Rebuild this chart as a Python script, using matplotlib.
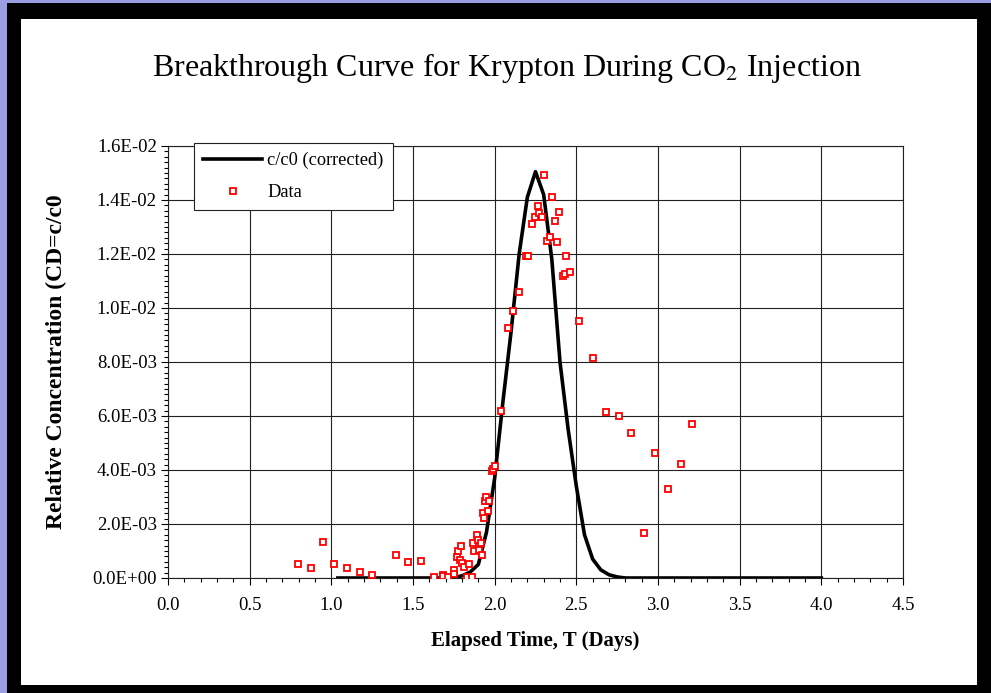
import matplotlib
matplotlib.use("Agg")
import matplotlib.pyplot as plt
from matplotlib.patches import Rectangle
from matplotlib.ticker import MultipleLocator, FuncFormatter

plt.rcParams['font.family'] = ['Liberation Serif', 'DejaVu Serif']

# model curve c/c0 (corrected)
curve_t = [1.04, 1.70, 1.75, 1.80, 1.85, 1.90, 1.95, 2.00, 2.05, 2.10, 2.15, 2.20,
           2.25, 2.30, 2.35, 2.40, 2.45, 2.50, 2.55, 2.60, 2.65, 2.70, 2.75, 2.80, 4.00]
curve_c = [0.0, 0.0, 0.02, 0.08, 0.22, 0.5, 1.7, 3.7, 6.5, 9.1, 12.0, 14.1,
           15.05, 14.2, 11.8, 8.0, 5.5, 3.4, 1.6, 0.7, 0.3, 0.12, 0.04, 0.0, 0.0]
curve_c = [v * 1e-3 for v in curve_c]

# measured data
data_t = [0.798, 0.874, 0.951, 1.019, 1.096, 1.174, 1.251, 1.394, 1.472, 1.551,
          1.627, 1.682, 1.686, 1.717, 1.751, 1.751, 1.768, 1.778, 1.788, 1.792,
          1.798, 1.813, 1.829, 1.843, 1.864, 1.870, 1.876, 1.894, 1.900, 1.906,
          1.915, 1.921, 1.927, 1.937, 1.941, 1.947, 1.962, 1.968, 1.982, 1.992,
          2.002, 2.039, 2.084, 2.115, 2.151, 2.192, 2.207, 2.227, 2.247, 2.264,
          2.274, 2.292, 2.305, 2.319, 2.339, 2.350, 2.372, 2.384, 2.396, 2.417,
          2.431, 2.437, 2.462, 2.519, 2.605, 2.682, 2.762, 2.837, 2.915, 2.982,
          3.060, 3.139, 3.207]
data_c = [0.51, 0.37, 1.32, 0.51, 0.37, 0.23, 0.11, 0.85, 0.58, 0.64,
          0.03, 0.11, 0.09, 0.05, 0.30, 0.15, 0.79, 1.00, 0.67, 1.18,
          0.54, 0.42, 0.05, 0.52, 0.05, 1.28, 1.01, 1.59, 1.41, 1.04,
          1.28, 0.85, 2.42, 2.21, 2.86, 3.01, 2.49, 2.86, 3.97, 4.02,
          4.15, 6.20, 9.25, 9.90, 10.59, 11.94, 11.94, 13.11, 13.36, 13.78,
          13.53, 13.38, 14.93, 12.49, 12.62, 14.12, 13.23, 12.43, 13.57, 11.20,
          11.26, 11.94, 11.35, 9.52, 8.16, 6.14, 6.00, 5.38, 1.65, 4.63,
          3.28, 4.23, 5.72]
data_c = [v * 1e-3 for v in data_c]

W, H = 991, 693
fig = plt.figure(figsize=(W / 100, H / 100), dpi=100)

# frame: lavender edge, black border, white panel
fig.patches.append(Rectangle((0, 0), 1, 1, transform=fig.transFigure,
                             facecolor='#9c9ce0', edgecolor='none', zorder=-3))
fig.patches.append(Rectangle((7 / W, 0), 1, 1 - 3 / H, transform=fig.transFigure,
                             facecolor='black', edgecolor='none', zorder=-2))
fig.patches.append(Rectangle((21 / W, 8 / H), (977 - 21) / W, (685 - 19) / H,
                             transform=fig.transFigure,
                             facecolor='white', edgecolor='none', zorder=-1))

ax = fig.add_axes([168 / W, (H - 578) / H, (903 - 168) / W, (578 - 146) / H])
ax.set_facecolor('none')

ax.plot(curve_t, curve_c, color='black', lw=2.6, label='c/c0 (corrected)', zorder=3)
ax.plot(data_t, data_c, ls='none', marker='s', ms=4.8, mfc='white', mec='red',
        mew=1.3, label='Data', zorder=4)

ax.set_xlim(0, 4.5)
ax.set_ylim(0, 0.016)
ax.xaxis.set_major_locator(MultipleLocator(0.5))
ax.xaxis.set_minor_locator(MultipleLocator(0.1))
ax.yaxis.set_major_locator(MultipleLocator(0.002))
ax.yaxis.set_minor_locator(MultipleLocator(0.0002))
ax.xaxis.set_major_formatter(FuncFormatter(lambda v, p: f"{v:.1f}"))
ax.yaxis.set_major_formatter(FuncFormatter(lambda v, p: f"{v:.1E}"))

ax.grid(True, which='major', color='#222222', lw=0.8)
ax.set_axisbelow(True)
for s in ax.spines.values():
    s.set_color('#222222')
    s.set_linewidth(0.8)

ax.tick_params(which='major', direction='out', length=5, width=0.8, labelsize=13.5)
ax.tick_params(which='minor', direction='out', length=3, width=0.8)
ax.tick_params(axis='x', which='major', pad=9)
ax.tick_params(axis='y', which='major', pad=3)

ax.set_xlabel('Elapsed Time, T (Days)', fontsize=15, fontweight='bold')
ax.set_ylabel('Relative Concentration (CD=c/c0', fontsize=17, fontweight='bold')
ax.xaxis.set_label_coords(0.5, (578 - 631) / 432)
ax.yaxis.set_label_coords((67 - 168) / 735, 0.5)

fig.text(507 / W, 1 - 68 / H, 'Breakthrough Curve for Krypton During CO$_2$ Injection',
         ha='center', va='center', fontsize=23, math_fontfamily='stix')

leg = ax.legend(loc='upper left', bbox_to_anchor=(26 / 735, 1.007), frameon=True,
                fancybox=False, framealpha=1, edgecolor='#222222', fontsize=13.2,
                handlelength=3.2, handletextpad=0.3, borderpad=0.5, labelspacing=0.8,
                borderaxespad=0)
leg.get_frame().set_linewidth(0.8)

fig.savefig('out.png', dpi=100)
